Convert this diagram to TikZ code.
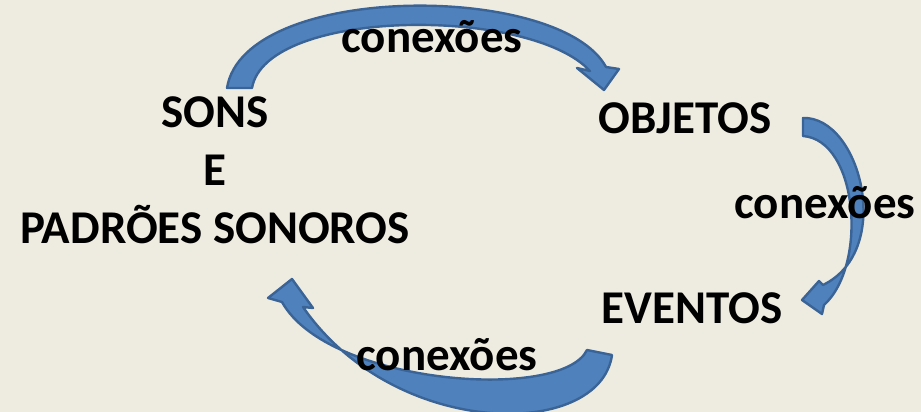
\documentclass[tikz,border=0pt]{standalone}
\usepackage{fontspec}
\setmainfont{Carlito}
\definecolor{fundo}{HTML}{EEECE1}
\definecolor{azul}{HTML}{4F81BD}
\definecolor{azulborda}{HTML}{3A6396}

\begin{document}
\begin{tikzpicture}[
      x=1pt, y=-1pt,
      rotulo/.style={font=\fontsize{47}{58}\selectfont\bfseries, align=center,
                     inner sep=0pt, anchor=base},
      seta/.style={fill=azul, draw=azulborda, line width=2.4pt, line join=round}
    ]
    \useasboundingbox (0,0) rectangle (921,412);
    \fill[fundo] (0,0) rectangle (921,412);

    % setas curvas
    \filldraw[seta] (227,88) .. controls (244,-18) and (560,-18) .. (606,67)
      -- (619,69) -- (604,90) -- (577,68) -- (590,71)
      .. controls (530,6) and (266,8) .. (252,88) -- cycle;
    \filldraw[seta] (803,118) .. controls (860,116) and (895,250) .. (823,285)
      -- (819,281) -- (802,300) -- (822,314) -- (824,305)
      .. controls (868,265) and (858,140) .. (803,136) -- cycle;
    \filldraw[seta] (612,355) .. controls (600,440) and (395,440) .. (303,307)
      -- (313,308) -- (292,279) -- (268,298) -- (282,302)
      .. controls (328,385) and (562,402) .. (587,350) -- cycle;

    \node[rotulo] (sons)    at (215,243) {SONS\\E\\PADRÕES SONOROS};
    \node[rotulo] (objetos) at (685,133) {OBJETOS};
    \node[rotulo] (eventos) at (692,323) {EVENTOS};
    \node[rotulo] (c1) at (432,53)  {conexões};
    \node[rotulo] (c2) at (825,218) {conexões};
    \node[rotulo] (c3) at (447,370) {conexões};
  \end{tikzpicture}
\end{document}
